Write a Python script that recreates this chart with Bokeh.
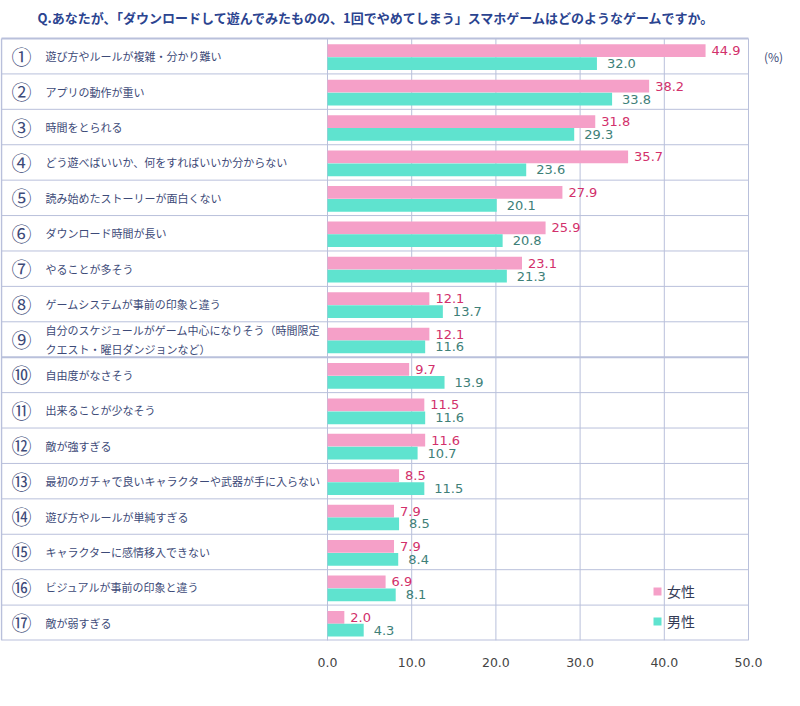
from bokeh.plotting import figure
from bokeh.models import (ColumnDataSource, Range1d, FixedTicker, NumeralTickFormatter,
                          Legend, LegendItem)
from bokeh.core.properties import value
from bokeh.embed import file_html
from bokeh.resources import INLINE

title_text = "Q.あなたが、「ダウンロードして遊んでみたものの、1回でやめてしまう」スマホゲームはどのようなゲームですか。"
categories = [
    "遊び方やルールが複雑・分かり難い",
    "アプリの動作が重い",
    "時間をとられる",
    "どう遊べばいいか、何をすればいいか分からない",
    "読み始めたストーリーが面白くない",
    "ダウンロード時間が長い",
    "やることが多そう",
    "ゲームシステムが事前の印象と違う",
    "自分のスケジュールがゲーム中心になりそう（時間限定\nクエスト・曜日ダンジョンなど）",
    "自由度がなさそう",
    "出来ることが少なそう",
    "敵が強すぎる",
    "最初のガチャで良いキャラクターや武器が手に入らない",
    "遊び方やルールが単純すぎる",
    "キャラクターに感情移入できない",
    "ビジュアルが事前の印象と違う",
    "敵が弱すぎる",
]
female = [44.9, 38.2, 31.8, 35.7, 27.9, 25.9, 23.1, 12.1, 12.1, 9.7, 11.5, 11.6, 8.5, 7.9, 7.9, 6.9, 2.0]
male = [32.0, 33.8, 29.3, 23.6, 20.1, 20.8, 21.3, 13.7, 11.6, 13.9, 11.6, 10.7, 11.5, 8.5, 8.4, 8.1, 4.3]
series_names = ["女性", "男性"]
x_ticks = [0, 10, 20, 30, 40, 50]
unit_text = "(%)"

# ---- layout constants (pixels) ----
PX_PER_UNIT = 8.42
ZERO_PX = 327              # figure px of x = 0
ROW_PX = 35.41
TOP_PX = 38                # figure px of first row top
FIG_W, FIG_H = 784, 690
FRAME_H = 640

n = len(categories)
x0 = -ZERO_PX / PX_PER_UNIT
x1 = (FIG_W - ZERO_PX) / PX_PER_UNIT
y_top = -TOP_PX / ROW_PX

GRID = "#b9c0db"
PINK = "#f5a0c8"
TEAL = "#5fe3cf"
PINK_TXT = "#d2306b"
TEAL_TXT = "#3e8078"
LABEL_COL = "#3d4a78"

p = figure(width=FIG_W, height=FIG_H, x_range=Range1d(x0, x1), y_range=Range1d(n, y_top),
           output_backend="svg", toolbar_location=None, y_axis_location=None,
           min_border_left=0, min_border_right=0, min_border_top=0,
           min_border_bottom=FIG_H - FRAME_H)
p.outline_line_color = None
p.xgrid.visible = False
p.ygrid.visible = False
p.background_fill_color = "white"
p.border_fill_color = "white"

rows = list(range(n))

# table lines
left_x = x0 + 1 / PX_PER_UNIT
p.segment(x0=[left_x] * (n + 1), x1=[50] * (n + 1), y0=list(range(n + 1)), y1=list(range(n + 1)),
          line_color=GRID, line_width=[2 if i in (0, 9, n) else 1 for i in range(n + 1)])
p.segment(x0=[left_x], x1=[left_x], y0=[0], y1=[n], line_color=GRID, line_width=1.5)
p.segment(x0=x_ticks, x1=x_ticks, y0=[0] * len(x_ticks),
          y1=[n + 0.15 if t == 0 else n for t in x_ticks], line_color=GRID, line_width=1)

# bars
src = ColumnDataSource(dict(
    yf=[r + 0.345 for r in rows], ym=[r + 0.71 for r in rows],
    female=female, male=male,
    flab=[f"{v:.1f}" for v in female], mlab=[f"{v:.1f}" for v in male],
))
rf = p.hbar(y="yf", right="female", left=0, height=0.36, source=src, fill_color=PINK, line_color=None)
rm = p.hbar(y="ym", right="male", left=0, height=0.36, source=src, fill_color=TEAL, line_color=None)

p.text(x="female", y="yf", text="flab", source=src, x_offset=6, text_baseline="middle",
       text_font=value("DejaVu Sans"), text_font_size="13px", text_color=PINK_TXT)
p.text(x="male", y="ym", text="mlab", source=src, x_offset=10, text_baseline="middle",
       text_font=value("DejaVu Sans"), text_font_size="13px", text_color=TEAL_TXT)

# category labels
num_x = (21 - ZERO_PX) / PX_PER_UNIT
cat_x = (45 - ZERO_PX) / PX_PER_UNIT
src2 = ColumnDataSource(dict(y=[r + 0.5 for r in rows], num=[chr(0x2460 + r) for r in rows],
                             cat=categories))
p.text(x=num_x, y="y", text="num", source=src2, text_align="center", text_baseline="middle",
       text_font=value("Noto Sans CJK JP"), text_font_size="20px", text_color=LABEL_COL)
p.text(x=cat_x, y="y", text="cat", source=src2, text_align="left", text_baseline="middle",
       text_font=value("Noto Sans CJK JP"), text_font_size="11px", text_color=LABEL_COL,
       text_line_height=1.2)

# title and unit
title_x = (376 - ZERO_PX) / PX_PER_UNIT
p.text(x=[title_x], y=[-0.593], text=[title_text], text_align="center",
       text_baseline="middle", text_font=value("Noto Sans CJK JP"), text_font_size="13px",
       text_font_style="bold", text_color="#2b4490")
p.text(x=[52.97], y=[0.51], text=[unit_text], text_align="center", text_baseline="middle",
       text_font=value("Noto Sans CJK JP"), text_font_size="12px", text_color=LABEL_COL)

# axis
ax = p.xaxis[0]
ax.ticker = FixedTicker(ticks=x_ticks)
ax.formatter = NumeralTickFormatter(format="0.0")
ax.axis_line_color = None
ax.major_tick_line_color = None
ax.minor_tick_line_color = None
ax.major_label_standoff = 11
ax.major_label_text_font = "DejaVu Sans"
ax.major_label_text_font_size = "12.5px"
ax.major_label_text_color = "#444444"

# legend
legend = Legend(items=[LegendItem(label=series_names[0], renderers=[rf]),
                       LegendItem(label=series_names[1], renderers=[rm])],
                location=(652, 9), orientation="vertical",
                glyph_width=10, glyph_height=10, label_height=16, spacing=10,
                label_standoff=5, padding=0, margin=0,
                border_line_color=None, background_fill_alpha=0,
                label_text_font="Noto Sans CJK JP", label_text_font_size="14px",
                label_text_color="#333a55")
p.add_layout(legend, "center")

open("out.html", "w").write(file_html(p, INLINE))
